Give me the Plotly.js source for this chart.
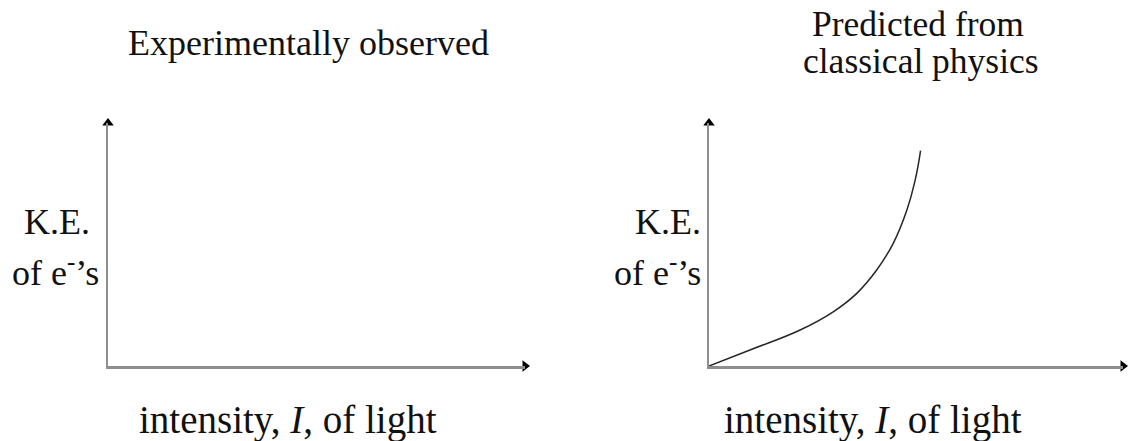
<!DOCTYPE html>
<html>
<head>
<meta charset="utf-8">
<script src="https://cdn.plot.ly/plotly-3.0.1.min.js"></script>
<style>
  html, body { margin: 0; padding: 0; background: #ffffff; }
  #chart { width: 1130px; height: 441px; }
</style>
</head>
<body>
<div id="chart"></div>
<script>
// Classical prediction: kinetic energy of emitted electrons vs. light intensity
const intensity = [0, 0.99, 2.2, 3.0, 3.57, 4.05, 4.45, 4.78, 4.98, 5.11];
const kineticEnergy = [0, 0.66, 1.48, 2.23, 2.99, 3.95, 5.05, 6.42, 7.65, 8.86];

// Panel headings and axis captions
const panelTitles = [["Experimentally observed"], ["Predicted from", "classical physics"]];
const yLabelLines = ["K.E.", "of e<sup>-</sup>’s"];
const xLabel = "intensity, <i>I</i>, of light";

const axisRange = [0, 10];

const W = 1130, H = 441;
const px = v => v / W;
const py = v => 1 - v / H;

const serif = "'Liberation Serif', 'Times New Roman', Times, serif";
const axisLineColor = "#8e8e8e";

function axisStyle(domain, anchor) {
  return {
    domain: domain,
    anchor: anchor,
    range: axisRange,
    showline: true,
    linecolor: axisLineColor,
    linewidth: 2.5,
    showgrid: false,
    zeroline: false,
    showticklabels: false,
    ticks: "",
    fixedrange: true
  };
}

// Black arrowheads at the far ends of each axis pair
function arrowTrace(xa, ya) {
  return {
    type: "scatter",
    mode: "markers",
    x: [axisRange[0], axisRange[1]],
    y: [axisRange[1], axisRange[0]],
    xaxis: xa,
    yaxis: ya,
    cliponaxis: false,
    hoverinfo: "skip",
    marker: { symbol: ["triangle-up", "triangle-right"], size: 10, color: "#000000", line: { width: 0 } },
    showlegend: false
  };
}

const traces = [
  arrowTrace("x", "y"),
  arrowTrace("x2", "y2"),
  {
    type: "scatter",
    mode: "lines",
    x: intensity,
    y: kineticEnergy,
    xaxis: "x2",
    yaxis: "y2",
    line: { color: "#262626", width: 1.5, shape: "spline", smoothing: 1.3 },
    hoverinfo: "skip",
    showlegend: false
  }
];

function label(text, x, y, xanchor, size) {
  return {
    text: text,
    xref: "paper", yref: "paper",
    x: px(x), y: py(y),
    xanchor: xanchor, yanchor: "middle",
    showarrow: false,
    font: { family: serif, size: size, color: "#111111" }
  };
}

const annotations = [
  label(panelTitles[0][0], 308, 43, "center", 36),
  label(panelTitles[1][0], 918, 24, "center", 35.5),
  label(panelTitles[1][1], 921, 61, "center", 35.5),
  label(yLabelLines[0], 57, 222, "center", 36),
  label(yLabelLines[1], 55, 270, "center", 36),
  label(yLabelLines[0], 703, 222, "right", 36),
  label(yLabelLines[1], 703, 270, "right", 36),
  label(xLabel, 288, 420, "center", 39),
  label(xLabel, 873, 420, "center", 39)
];

const layout = {
  width: W,
  height: H,
  margin: { l: 0, r: 0, t: 0, b: 0 },
  paper_bgcolor: "#ffffff",
  plot_bgcolor: "#ffffff",
  showlegend: false,
  xaxis: axisStyle([px(108), px(525)], "y"),
  yaxis: axisStyle([py(366), py(123)], "x"),
  xaxis2: axisStyle([px(709), px(1123)], "y2"),
  yaxis2: axisStyle([py(366), py(123)], "x2"),
  annotations: annotations
};

Plotly.newPlot("chart", traces, layout, { displayModeBar: false, staticPlot: true });
</script>
</body>
</html>
